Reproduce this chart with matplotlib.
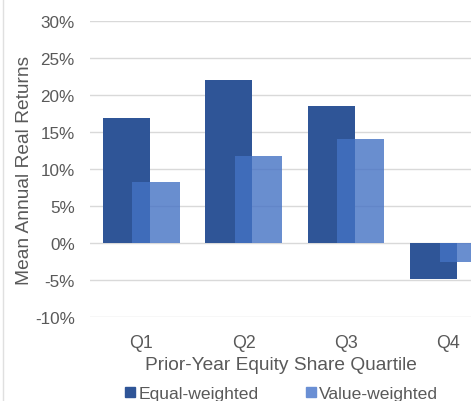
import matplotlib.pyplot as plt
import numpy as np
from matplotlib.lines import Line2D

plt.rcParams['font.family'] = ['Liberation Sans', 'DejaVu Sans']

quartiles = ['Q1', 'Q2', 'Q3', 'Q4']
equal_weighted = [16.9, 22.0, 18.5, -4.9]
value_weighted = [8.2, 11.7, 14.0, -2.5]

fig = plt.figure(figsize=(4.71, 4.02), dpi=100)
ax = fig.add_axes([0.191, 0.209, 0.809, 0.736])

x = np.arange(len(quartiles))
w = 0.46
ax.bar(x - 0.145, equal_weighted, w, color='#2F5597', zorder=2)
ax.bar(x + 0.145, value_weighted, w, color='#4472C4', alpha=0.8, zorder=3)

ax.set_ylim(-10, 30)
ax.set_xlim(-0.5, 3.22)
ax.set_yticks(range(-10, 31, 5))
ax.set_yticklabels([f'{v}%' for v in range(-10, 31, 5)], color='#595959', fontsize=12.3)
ax.set_xticks(x)
ax.set_xticklabels(quartiles, color='#595959', fontsize=12.8)
ax.tick_params(length=0)
ax.tick_params(axis='x', pad=12)
ax.tick_params(axis='y', pad=11)
ax.grid(axis='y', color='#D9D9D9', linewidth=1, zorder=0)
for s in ax.spines.values():
    s.set_visible(False)

ax.set_ylabel('Mean Annual Real Returns', color='#595959', fontsize=13.8, labelpad=1)
ax.set_xlabel('Prior-Year Equity Share Quartile', color='#595959', fontsize=13.8, labelpad=4)

handles = [Line2D([], [], marker='s', linestyle='', color='#2F5597', markersize=7),
           Line2D([], [], marker='s', linestyle='', color='#6A8FD4', markersize=7)]
fig.legend(handles, ['Equal-weighted', 'Value-weighted'], loc='center', bbox_to_anchor=(0.598, 0.018),
           ncol=2, frameon=False, fontsize=12.6, handlelength=0.6, handletextpad=0.2,
           columnspacing=2.65, labelcolor='#595959')

fig.add_artist(Line2D([0.006, 0.006], [0, 1], color='#E0E0E0', linewidth=1))

fig.savefig('out.png', dpi=100)
